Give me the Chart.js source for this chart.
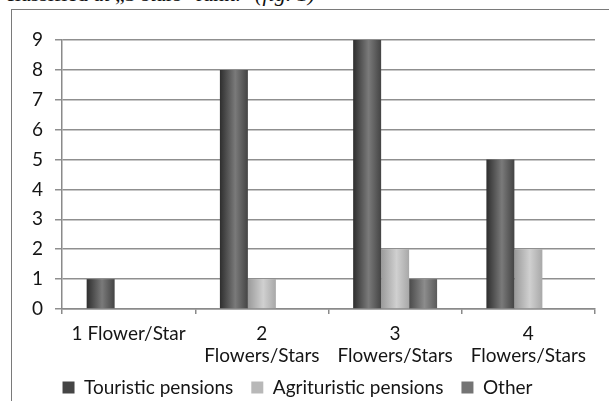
<!DOCTYPE html>
<html>
<head>
<meta charset="utf-8">
<script src="https://cdn.jsdelivr.net/npm/chart.js@4/dist/chart.umd.min.js"></script>
<style>
  html, body { margin: 0; padding: 0; background: #fff; }
  body { width: 609px; height: 401px; position: relative; overflow: hidden; }
  #caption {
    position: absolute; left: 5px; top: -17px; white-space: nowrap;
    font-family: "Liberation Serif", serif; font-size: 22px; line-height: 22px; color: #111;
  }
  #frame {
    position: absolute; left: 11px; top: 9px; width: 700px; height: 500px;
    border-left: 1px solid #7a7a7a; border-top: 1px solid #7a7a7a;
  }
  #wrap { position: absolute; left: 0; top: 0; width: 609px; height: 401px; }
</style>
</head>
<body>
<div id="caption">classified at „3 stars" rank." <i>(fig. 1)</i></div>
<div id="frame"></div>
<div id="wrap"><canvas id="chart"></canvas></div>
<script>
const categories = ["1 Flower/Star", ["2", "Flowers/Stars"], ["3", "Flowers/Stars"], ["4", "Flowers/Stars"]];
const seriesNames = ["Touristic pensions", "Agrituristic pensions", "Other"];
const touristic = [1, 8, 9, 5];
const agrituristic = [0, 1, 2, 2];
const other = [0, 0, 1, 0];
const yTicks = [0, 1, 2, 3, 4, 5, 6, 7, 8, 9];

// left edge, highlight, right edge of each cylinder-like bar
const shades = [
    ["#2e2e2e", "#7a7a7a", "#444444"],
    ["#9a9a9a", "#d0d0d0", "#a8a8a8"],
    ["#4a4a4a", "#8c8c8c", "#5a5a5a"],
];
const legendColors = ["#454545", "#b8b8b8", "#747474"];

const FONT = "Lato, 'Open Sans', sans-serif";

function barShade(stops) {
    return (c) => {
        const el = c.element;
        if (!el || el.width == null || isNaN(el.x)) {
            return stops[1];
        }
        const g = c.chart.ctx.createLinearGradient(el.x - el.width / 2, 0, el.x + el.width / 2, 0);
        g.addColorStop(0, stops[0]);
        g.addColorStop(0.55, stops[1]);
        g.addColorStop(1, stops[2]);
        return g;
    };
}

// legend box starts a little higher, under the wrapped axis labels
const legendLift = {
    id: "legendLift",
    afterLayout(chart) {
        if (chart.legend) {
            chart.legend.top -= 12;
        }
    },
};

const seriesValues = [touristic, agrituristic, other];

const chart = new Chart(document.getElementById("chart"), {
    type: "bar",
    data: {
        labels: categories,
        datasets: seriesValues.map((values, i) => ({
            label: seriesNames[i],
            data: values,
            backgroundColor: barShade(shades[i]),
            borderWidth: 0,
            barPercentage: 1,
            categoryPercentage: 0.63,
        })),
    },
    options: {
        responsive: true,
        maintainAspectRatio: false,
        animation: false,
        layout: {
            padding: { left: 0, right: 14, top: 40, bottom: 0 },
        },
        plugins: {
            tooltip: { enabled: false },
            legend: {
                position: "bottom",
                align: "center",
                maxHeight: 29,
                labels: {
                    boxWidth: 12,
                    boxHeight: 12,
                    padding: 18,
                    color: "#151515",
                    font: { family: FONT, size: 19 },
                    generateLabels: (ch) => {
                        const items = Chart.defaults.plugins.legend.labels.generateLabels(ch);
                        items.forEach((item, i) => {
                            item.fillStyle = legendColors[i];
                            item.strokeStyle = legendColors[i];
                            item.lineWidth = 0;
                        });
                        return items;
                    },
                },
            },
        },
        scales: {
            x: {
                offset: true,
                grid: {
                    offset: true,
                    drawOnChartArea: false,
                    drawTicks: true,
                    tickLength: 5,
                    color: "#8a8a8a",
                    lineWidth: 1.5,
                },
                border: { color: "#8a8a8a", width: 1.5 },
                ticks: {
                    padding: 9,
                    maxRotation: 0,
                    autoSkip: false,
                    color: "#151515",
                    font: { family: FONT, size: 19, lineHeight: 1.16 },
                },
                afterFit: (scale) => {
                    scale.height = 63;
                },
            },
            y: {
                min: 0,
                max: 9,
                afterBuildTicks: (scale) => {
                    scale.ticks = yTicks.map((v) => ({ value: v }));
                },
                grid: {
                    color: "#8f8f8f",
                    lineWidth: 1.5,
                    tickLength: 7,
                },
                border: { color: "#8a8a8a", width: 1.5 },
                ticks: {
                    padding: 12,
                    color: "#151515",
                    font: { family: FONT, size: 19 },
                },
                afterFit: (scale) => {
                    scale.width = 62;
                },
            },
        },
    },
    plugins: [legendLift],
});

// second pass so the bar gradients can use the laid-out bar positions
chart.update("none");
</script>
</body>
</html>
